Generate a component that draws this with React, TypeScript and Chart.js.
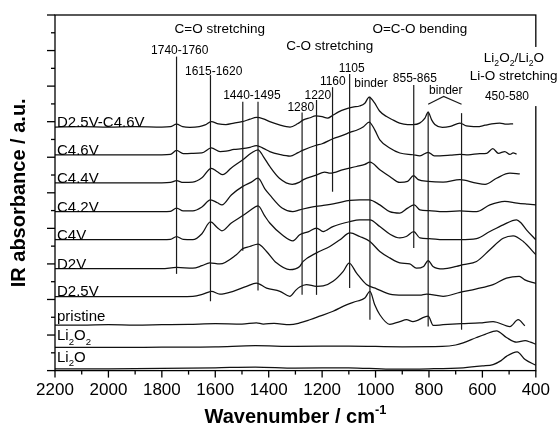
import React, { useEffect, useRef } from 'react';
import { Chart, registerables } from 'chart.js';

Chart.register(...registerables);

type P = [number, number];

const FONT = '"Liberation Sans", Arial, Helvetica, sans-serif';

// ---------- data (wavenumber cm-1, stacked absorbance a.u.) ----------
const xTickValues = [2200, 2000, 1800, 1600, 1400, 1200, 1000, 800, 600, 400];

const specD25C46: P[] = [[2200,6.85],[2100,6.86],[2000,6.85],[1900,6.86],[1800,6.85],[1768,6.86],[1745,6.93],[1722,6.86],[1695,6.84],[1660,6.86],[1638,6.91],[1615,7.00],[1588,6.94],[1560,6.92],[1530,6.96],[1500,7.00],[1470,7.07],[1446,7.12],[1420,7.08],[1396,7.00],[1360,6.91],[1320,6.85],[1292,6.94],[1270,7.05],[1245,7.11],[1225,7.16],[1200,7.14],[1180,7.10],[1160,7.18],[1140,7.27],[1110,7.36],[1085,7.41],[1060,7.44],[1040,7.52],[1024,7.69],[1005,7.54],[985,7.30],[960,7.15],[940,7.07],[910,6.96],[880,6.92],[860,6.92],[835,6.96],[815,7.10],[803,7.27],[790,7.05],[778,6.92],[750,6.84],[720,6.87],[684,6.96],[660,6.88],[620,6.86],[590,6.90],[570,6.93],[535,6.96],[510,6.93],[485,6.94]];
const specC46: P[] = [[2200,6.07],[2100,6.07],[2000,6.07],[1900,6.07],[1800,6.07],[1768,6.08],[1745,6.19],[1720,6.10],[1690,6.11],[1650,6.12],[1615,6.26],[1582,6.16],[1560,6.17],[1530,6.22],[1500,6.24],[1470,6.28],[1446,6.33],[1420,6.25],[1396,6.16],[1360,6.08],[1320,6.03],[1290,6.13],[1271,6.20],[1225,6.33],[1200,6.38],[1160,6.52],[1121,6.62],[1096,6.70],[1071,6.76],[1045,6.86],[1024,6.99],[1003,6.77],[984,6.49],[947,6.26],[909,6.12],[860,6.07],[834,6.04],[803,6.14],[780,6.04],[720,6.06],[684,6.08],[653,6.07],[610,6.10],[584,6.11],[561,6.24],[540,6.11],[516,6.16],[497,6.08],[485,6.12],[472,6.09]];
const specC44: P[] = [[2200,5.28],[2100,5.28],[2000,5.28],[1900,5.28],[1800,5.28],[1768,5.29],[1745,5.34],[1720,5.29],[1684,5.30],[1650,5.42],[1615,5.69],[1592,5.59],[1572,5.51],[1540,5.70],[1497,5.93],[1465,6.12],[1440,6.21],[1420,6.02],[1396,5.74],[1360,5.41],[1312,5.24],[1284,5.30],[1270,5.37],[1225,5.49],[1190,5.58],[1170,5.55],[1121,5.65],[1071,5.74],[1040,5.80],[1021,5.86],[984,5.65],[947,5.46],[909,5.29],[880,5.32],[858,5.48],[840,5.37],[803,5.32],[747,5.30],[684,5.37],[622,5.27],[590,5.24],[547,5.41],[497,5.55],[460,5.53]];
const specC42: P[] = [[2200,4.47],[2100,4.47],[2000,4.47],[1900,4.47],[1800,4.47],[1768,4.48],[1745,4.57],[1720,4.49],[1684,4.49],[1650,4.60],[1618,4.80],[1592,4.72],[1575,4.66],[1540,4.94],[1497,5.18],[1465,5.30],[1440,5.41],[1415,5.12],[1396,4.94],[1350,4.57],[1310,4.47],[1284,4.52],[1240,4.60],[1200,4.64],[1150,4.70],[1096,4.79],[1060,4.80],[1024,4.80],[984,4.66],[947,4.47],[909,4.43],[880,4.57],[855,4.66],[834,4.52],[800,4.50],[747,4.47],[684,4.49],[622,4.47],[572,4.66],[516,4.76],[470,4.71],[430,4.68],[400,4.66]];
const specC4: P[] = [[2200,3.68],[2100,3.68],[2000,3.68],[1900,3.68],[1800,3.68],[1768,3.69],[1745,3.77],[1720,3.69],[1684,3.68],[1650,3.85],[1618,4.18],[1592,4.02],[1575,3.93],[1540,4.15],[1497,4.36],[1470,4.50],[1440,4.63],[1415,4.35],[1396,4.15],[1350,3.82],[1309,3.65],[1284,3.82],[1250,3.91],[1221,4.01],[1196,3.91],[1160,4.05],[1096,4.19],[1060,4.24],[1021,4.24],[984,4.05],[947,3.84],[909,3.73],[885,3.77],[857,3.91],[834,3.73],[800,3.71],[747,3.68],[684,3.68],[622,3.71],[572,3.91],[522,4.10],[472,4.24],[455,4.15],[435,3.96],[400,3.68]];
const specD2: P[] = [[2200,2.87],[2100,2.87],[2000,2.87],[1900,2.87],[1800,2.87],[1745,2.90],[1684,2.88],[1650,2.95],[1621,3.03],[1583,3.00],[1521,3.26],[1497,3.43],[1471,3.49],[1440,3.56],[1408,3.35],[1371,3.03],[1321,2.84],[1284,2.93],[1271,3.07],[1221,3.31],[1171,3.49],[1133,3.68],[1096,3.87],[1059,3.77],[1021,3.63],[984,3.35],[947,3.17],[909,3.03],[872,3.00],[847,2.88],[820,2.93],[803,3.09],[785,2.93],[747,2.86],[697,2.93],[672,2.98],[622,3.07],[572,3.40],[522,3.72],[485,3.79],[447,3.63],[400,3.26]];
const specD25: P[] = [[2200,2.08],[2100,2.08],[2000,2.08],[1900,2.08],[1800,2.08],[1684,2.09],[1646,2.15],[1614,2.23],[1583,2.15],[1533,2.23],[1483,2.37],[1446,2.46],[1408,2.32],[1358,2.23],[1321,2.09],[1300,2.25],[1284,2.35],[1259,2.42],[1221,2.37],[1196,2.38],[1159,2.51],[1121,2.79],[1099,3.02],[1071,2.74],[1034,2.42],[996,2.30],[947,2.15],[897,2.12],[834,2.12],[809,2.15],[747,2.09],[684,2.20],[622,2.30],[560,2.42],[510,2.60],[462,2.65],[441,2.55],[400,2.45]];
const specPristine: P[] = [[2200,1.28],[2100,1.28],[2000,1.29],[1900,1.28],[1800,1.29],[1700,1.30],[1600,1.32],[1500,1.31],[1446,1.34],[1420,1.31],[1380,1.33],[1321,1.29],[1284,1.34],[1246,1.43],[1209,1.53],[1159,1.67],[1109,1.85],[1071,1.95],[1040,2.04],[1021,2.23],[1003,1.85],[984,1.57],[947,1.30],[909,1.38],[884,1.43],[860,1.38],[803,1.53],[784,1.27],[747,1.29],[678,1.32],[610,1.34],[560,1.38],[497,1.24],[466,1.43],[441,1.26]];
const specLi2O2: P[] = [[2200,0.65],[2000,0.65],[1800,0.66],[1600,0.67],[1450,0.70],[1300,0.68],[1100,0.69],[900,0.67],[750,0.68],[700,0.72],[672,0.78],[622,0.93],[590,1.02],[547,1.12],[510,0.93],[472,0.80],[440,0.84],[420,0.80],[400,0.74]];
const specLi2O: P[] = [[2200,0.05],[2000,0.05],[1800,0.06],[1600,0.08],[1450,0.10],[1300,0.07],[1100,0.08],[947,0.04],[800,0.05],[672,0.08],[600,0.13],[560,0.17],[530,0.28],[510,0.40],[470,0.53],[440,0.31],[400,0.15]];

const seriesNames = ['D2.5V-C4.6V', 'C4.6V', 'C4.4V', 'C4.2V', 'C4V', 'D2V', 'D2.5V', 'pristine', 'Li_2O_2', 'Li_2O'];
const seriesData = [specD25C46, specC46, specC44, specC42, specC4, specD2, specD25, specPristine, specLi2O2, specLi2O];
const labelLift = [0.5, 0, 0, 0, 0, 0, 0.5, 4, 7, 7];

// vertical assignment lines: wavenumber, top value, bottom value
const markerWn = [1745, 1618, 1497, 1440, 1275, 1221, 1161, 1097, 1021, 857, 803, 678];
const markerTop = [8.83, 8.31, 7.56, 7.56, 7.26, 7.61, 7.97, 8.34, 7.70, 8.03, 7.28, 7.24];
const markerBottom = [2.72, 1.95, 3.37, 2.25, 2.13, 2.13, 5.03, 2.32, 1.43, 3.45, 1.24, 1.15];

// bracket over the two binder lines
const bracketWn = [803, 745, 678];
const bracketY = [7.49, 7.71, 7.49];

// annotation texts (centre positions in data units)
const annoText = ['C=O stretching', 'C-O stretching', 'O=C-O bending', '1740-1760', '1615-1620', '1440-1495', '1280', '1220', '1160', '1105', 'binder', '855-865', 'binder'];
const annoWn = [1583, 1171, 834, 1733, 1606, 1463, 1280, 1216, 1160, 1089, 1017, 853, 737];
const annoY = [9.63, 9.16, 9.63, 9.02, 8.43, 7.75, 7.43, 7.75, 8.15, 8.51, 8.09, 8.23, 7.89];
const annoBig = [true, true, true, false, false, false, false, false, false, false, false, false, false];

const liText = ['Li_2O_2/Li_2O', 'Li-O stretching', '450-580'];
const liWn = [482, 483, 508];
const liY = [8.82, 8.31, 7.72];
const liBig = [true, true, false];

// ---------- rich text helpers ----------
type Seg = [string, number];
function parseRich(s: string): Seg[] {
  const out: Seg[] = [];
  let buf = '';
  for (let i = 0; i < s.length; i++) {
    const c = s[i];
    if (c === '_') {
      if (buf) out.push([buf, 0]);
      buf = '';
      out.push([s[i + 1], -1]);
      i++;
    } else if (c === '^') {
      if (buf) out.push([buf, 0]);
      buf = '';
      const end = s.indexOf('}', i);
      out.push([s.slice(i + 2, end), 1]);
      i = end;
    } else buf += c;
  }
  if (buf) out.push([buf, 0]);
  return out;
}

function measureRich(ctx: CanvasRenderingContext2D, s: string, size: number, weight: string) {
  const segs = parseRich(s);
  const small = size * 0.64;
  let w = 0;
  const widths = segs.map(([t, m]) => {
    ctx.font = `${weight} ${m ? small : size}px ${FONT}`;
    const ww = ctx.measureText(t).width;
    w += ww;
    return ww;
  });
  return { segs, widths, w, small };
}

function drawRich(ctx: CanvasRenderingContext2D, s: string, x: number, y: number, size: number, weight: string, align: 'left' | 'center') {
  const { segs, widths, w, small } = measureRich(ctx, s, size, weight);
  let cx = align === 'center' ? x - w / 2 : x;
  ctx.textAlign = 'left';
  ctx.textBaseline = 'alphabetic';
  segs.forEach(([t, m], i) => {
    ctx.font = `${weight} ${m ? small : size}px ${FONT}`;
    const dy = m === -1 ? size * 0.3 : m === 1 ? -size * 0.45 : 0;
    ctx.fillText(t, cx, y + dy);
    cx += widths[i];
  });
  return w;
}

const annotPlugin = {
  id: 'irAnnot',
  afterDatasetsDraw(chart: any) {
    const { ctx, chartArea: a, scales } = chart;
    const xs = scales.x;
    const ys = scales.y;
    ctx.save();
    ctx.strokeStyle = '#000';
    ctx.fillStyle = '#000';
    ctx.lineWidth = 1.3;
    const seg = (x1: number, y1: number, x2: number, y2: number) => {
      ctx.beginPath();
      ctx.moveTo(x1, y1);
      ctx.lineTo(x2, y2);
      ctx.stroke();
    };
    // frame
    ctx.strokeRect(a.left, a.top, a.right - a.left, a.bottom - a.top);
    // x ticks (major + minor), outward
    const xmin = Math.min(...xTickValues);
    const xmax = Math.max(...xTickValues);
    const xstep = Math.abs(xTickValues[0] - xTickValues[1]);
    for (let v = xmin; v <= xmax; v += xstep / 2) {
      const px = xs.getPixelForValue(v);
      const major = (v - xmin) % xstep === 0;
      seg(px, a.bottom, px, a.bottom + (major ? 7 : 4));
    }
    // y ticks (major + minor), outward
    for (let v = ys.min; v <= ys.max + 1e-6; v += 0.5) {
      const py = ys.getPixelForValue(v);
      const major = Math.abs(v - Math.round(v)) < 1e-6;
      seg(a.left - (major ? 8 : 4), py, a.left, py);
    }
    // marker lines
    ctx.lineWidth = 1.2;
    ctx.strokeStyle = '#1a1a1a';
    markerWn.forEach((wn, i) => {
      const px = xs.getPixelForValue(wn);
      seg(px, ys.getPixelForValue(markerTop[i]), px, ys.getPixelForValue(markerBottom[i]));
    });
    ctx.beginPath();
    bracketWn.forEach((wn, i) => {
      const px = xs.getPixelForValue(wn);
      const py = ys.getPixelForValue(bracketY[i]);
      if (i === 0) ctx.moveTo(px, py);
      else ctx.lineTo(px, py);
    });
    ctx.stroke();

    // annotation texts
    ctx.fillStyle = '#000';
    annoText.forEach((t, i) => {
      const size = annoBig[i] ? 13.5 : 12;
      const px = xs.getPixelForValue(annoWn[i]);
      const py = ys.getPixelForValue(annoY[i]);
      drawRich(ctx, t, px, py + size * 0.36, size, 'normal', 'center');
    });

    // Li block with white background (interrupts right axis)
    let bl = Infinity, br = -Infinity;
    liText.forEach((t, i) => {
      const size = liBig[i] ? 13.5 : 12;
      const { w } = measureRich(ctx, t, size, 'normal');
      const px = xs.getPixelForValue(liWn[i]);
      bl = Math.min(bl, px - w / 2 - 1);
      br = Math.max(br, px + w / 2 + 1);
    });
    const bt = ys.getPixelForValue(liY[0]) - 10;
    const bb = ys.getPixelForValue(liY[liY.length - 1]) + 10;
    ctx.fillStyle = '#fff';
    ctx.fillRect(bl, bt, br - bl, bb - bt);
    ctx.fillStyle = '#000';
    liText.forEach((t, i) => {
      const size = liBig[i] ? 13.5 : 12;
      const px = xs.getPixelForValue(liWn[i]);
      const py = ys.getPixelForValue(liY[i]);
      drawRich(ctx, t, px, py + size * 0.36, size, 'normal', 'center');
    });

    // curve labels
    seriesNames.forEach((name, i) => {
      const meta = chart.getDatasetMeta(i);
      const p0 = meta.data[0];
      drawRich(ctx, name, a.left + 2, p0.y - labelLift[i], 15, 'normal', 'left');
    });

    // axis titles
    drawRich(ctx, 'Wavenumber / cm^{-1}', (a.left + a.right) / 2, a.bottom + 52, 20, 'bold', 'center');
    ctx.save();
    ctx.translate(25, (a.top + a.bottom) / 2);
    ctx.rotate(-Math.PI / 2);
    drawRich(ctx, 'IR absorbance / a.u.', 0, 0, 20, 'bold', 'center');
    ctx.restore();

    ctx.restore();
  },
};

export default function App() {
  const ref = useRef<HTMLCanvasElement | null>(null);
  useEffect(() => {
    if (!ref.current) return;
    const chart = new Chart(ref.current, {
      type: 'line',
      data: {
        datasets: seriesData.map((d, i) => ({
          label: seriesNames[i],
          data: d.map(([x, y]) => ({ x, y })),
          borderColor: '#111',
          borderWidth: 1.25,
          pointRadius: 0,
          fill: false,
          cubicInterpolationMode: 'monotone' as const,
        })),
      },
      options: {
        responsive: false,
        animation: false,
        devicePixelRatio: 1,
        layout: { padding: { left: 55, top: 15, right: 24, bottom: 18 } },
        plugins: { legend: { display: false }, tooltip: { enabled: false } },
        scales: {
          x: {
            type: 'linear',
            reverse: true,
            min: 400,
            max: 2200,
            grid: { display: false, drawTicks: false },
            border: { display: false },
            ticks: {
              stepSize: 200,
              autoSkip: false,
              maxRotation: 0,
              padding: 10,
              color: '#000',
              font: { family: FONT, size: 17 },
              callback: (v: any) => String(v),
            },
            afterBuildTicks: (s: any) => {
              s.ticks = xTickValues.map((v) => ({ value: v }));
            },
          },
          y: {
            type: 'linear',
            min: 0,
            max: 10,
            display: false,
          },
        },
      },
      plugins: [annotPlugin],
    });
    return () => chart.destroy();
  }, []);
  return (
    <div style={{ position: 'fixed', left: 0, top: 0, width: 560, height: 429, background: '#fff' }}>
      <canvas ref={ref} width={560} height={429} style={{ display: 'block' }} />
    </div>
  );
}
